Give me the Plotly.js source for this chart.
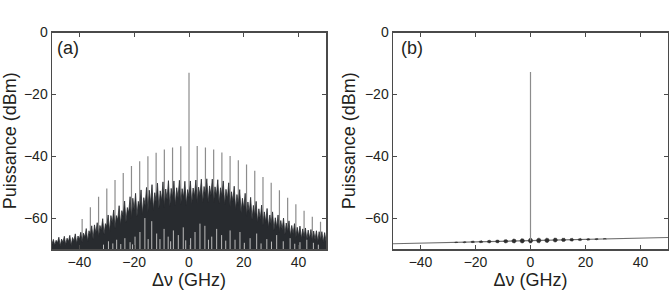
<!DOCTYPE html>
<html>
<head>
<meta charset="utf-8">
<script src="https://cdn.plot.ly/plotly-3.0.1.min.js"></script>
<style>
  html, body { margin: 0; padding: 0; background: #ffffff; }
  #chart { width: 669px; height: 296px; }
</style>
</head>
<body>
<div id="chart"></div>
<script>
// Axis extents (GHz, dBm) and tick labels
const freqRange = [-50, 50];
const powerRange = [-70, 0];
const xTickVals = [-40, -20, 0, 20, 40];
const xTickText = ['\u221240', '\u221220', '0', '20', '40'];
const yTickVals = [-60, -40, -20, 0];
const yTickText = ['\u221260', '\u221240', '\u221220', '0'];

// (a) broadband noise, sampled every 0.5 GHz from -50 GHz
const noiseStart = -50;
const noiseStep = 0.5;
const noisePower = [
  -68.4, -66.9, -68.8, -67.2, -68.0, -66.2, -69.0, -66.8, -67.9, -65.9,
  -68.6, -66.5, -67.6, -65.6, -68.9, -66.3, -67.4, -65.1, -68.2, -65.8,
  -66.9, -64.6, -67.8, -64.9, -66.2, -63.4, -67.5, -64.1, -65.6, -62.5,
  -66.8, -62.2, -64.8, -61.5, -66.1, -62.4, -63.9, -60.2, -65.2, -61.8,
  -62.8, -59.0, -64.4, -59.2, -61.6, -57.4, -63.3, -59.2, -60.6, -56.0,
  -62.2, -57.6, -59.4, -54.5, -61.3, -56.6, -58.3, -53.1, -60.2, -53.6,
  -57.4, -52.0, -59.5, -54.6, -56.6, -50.9, -58.8, -53.4, -55.9, -50.1,
  -58.0, -51.0, -55.2, -49.2, -57.4, -51.8, -54.8, -48.7, -56.9, -51.2,
  -54.4, -48.3, -56.5, -50.6, -54.0, -47.9, -56.2, -50.4, -53.7, -48.0,
  -55.9, -50.2, -53.5, -47.8, -55.6, -50.5, -53.4, -48.1, -55.8, -50.8,
  -53.3, -48.0, -55.4, -50.3, -53.0, -47.7, -55.1, -50.0, -52.8, -47.4,
  -55.0, -49.8, -52.6, -47.3, -54.9, -49.6, -52.6, -47.4, -55.0, -49.9,
  -52.8, -47.6, -55.2, -50.2, -53.1, -48.0, -55.6, -50.7, -53.8, -48.6,
  -56.3, -51.5, -54.6, -49.7, -57.2, -52.4, -55.8, -50.8, -58.3, -53.6,
  -57.0, -52.0, -59.4, -54.8, -58.2, -53.3, -60.5, -55.9, -59.4, -54.6,
  -61.4, -57.0, -60.4, -55.8, -62.3, -58.0, -61.3, -56.9, -63.1, -59.0,
  -62.2, -58.0, -63.9, -59.9, -63.0, -59.0, -64.6, -60.8, -63.8, -60.0,
  -65.2, -61.6, -64.5, -60.9, -65.8, -62.4, -65.1, -61.8, -66.3, -63.0,
  -65.7, -62.6, -66.7, -63.5, -66.2, -63.2, -67.0, -63.9, -66.6, -63.7,
  -67.3, -64.2, -67.0, -64.1, -67.6, -64.4, -67.2, -64.4, -67.8, -64.7,
  -67.4
];

// (a) comb lines: frequency (GHz) and peak power (dBm)
const combFreq = [-39, -36, -33, -30, -27, -24, -21, -18, -15, -12, -9, -6, -3, 0,
                  3, 6, 9, 12, 15, 18, 21, 24, 27, 30, 33, 36, 39, 42, 45, 48];
const combPower = [-60.3, -56.5, -53.1, -50.4, -47.7, -45.4, -43.2, -41.6, -40.0, -38.9,
                   -37.8, -37.2, -36.8, -13.0, -36.7, -37.2, -37.8, -38.8, -39.9, -41.3,
                   -42.7, -44.7, -46.7, -48.6, -51.0, -53.4, -55.5, -57.6, -59.6, -61.2];

// (a) light dips down to the floor: frequency (GHz) and height (dBm)
const dipFreq = [-31.2, -29.4, -27.8, -26.4, -24.9, -23.4, -21.5, -20.6, -19.7, -17.9,
                 -16.1, -14.9, -13.6, -11.8, -10.6, -9.1, -7.6, -6.7, -5.7, -3.9,
                 -2.1, -1.2, 0.6, 2.2, 4.0, 5.8, 7.1, 8.3, 10.1, 11.9,
                 13.4, 15.0, 16.8, 18.6, 20.2, 22.3, 24.7, 26.3, 28.4, 30.1,
                 32.0, 34.4, 36.9, 38.6, 40.5, 43.0, 45.4, 47.2];
const dipPower = [-68.6, -67.5, -68.2, -67.0, -68.4, -66.5, -67.8, -68.5, -66.0, -64.5,
                  -60.0, -66.8, -61.0, -65.0, -66.8, -63.5, -66.0, -67.5, -64.0, -65.5,
                  -63.0, -67.2, -66.5, -64.5, -61.8, -62.5, -67.0, -66.0, -63.5, -65.5,
                  -67.3, -64.0, -67.0, -64.5, -68.0, -66.5, -65.0, -68.2, -66.8, -67.6,
                  -65.5, -67.5, -66.5, -68.3, -67.8, -67.0, -68.0, -68.6];

// (b) residual floor and carrier
const floorFreqB = [-50, 50];
const floorPowerB = [-68.3, -66.3];
const carrierFreqB = [0];
const carrierPowerB = [-12.8];
const carrierBaseB = -67.3;

// (b) small residual modulation bumps along the floor
const bumpFreq = [-27, -24, -21, -18, -15, -12, -9, -6, -3, 0, 3, 6, 9, 12, 15, 18, 21, 24, 27];
const bumpLevel = [-67.85, -67.8, -67.7, -67.65, -67.6, -67.55, -67.5, -67.4, -67.35, -67.3,
                   -67.25, -67.2, -67.1, -67.05, -67.0, -66.95, -66.9, -66.8, -66.75];
const bumpHalfHeight = [0.15, 0.2, 0.28, 0.35, 0.45, 0.5, 0.58, 0.65, 0.72, 0.78,
                        0.78, 0.72, 0.66, 0.58, 0.48, 0.38, 0.28, 0.2, 0.12];
const bumpHalfWidth = [0.6, 0.62, 0.65, 0.68, 0.7, 0.72, 0.75, 0.78, 0.8, 0.8,
                       0.8, 0.8, 0.78, 0.75, 0.72, 0.68, 0.65, 0.62, 0.6];

const NOISE = '#282b2f';
const COMB = '#8c8c8c';
const FRAME = '#4a4a4a';
const TEXT = '#231f20';

// vertical stems from a base level up to each value
function stems(xs, tops, base) {
  const x = [], y = [];
  xs.forEach((f, i) => {
    x.push(f, f, null);
    y.push(base, tops[i], null);
  });
  return { x, y };
}

// closed ellipse outlines, one per bump, separated by gaps
function bumps(fs, levels, hh, hw) {
  const x = [], y = [];
  const n = 24;
  fs.forEach((f, i) => {
    for (let k = 0; k <= n; k++) {
      const t = (2 * Math.PI * k) / n;
      x.push(f + hw[i] * Math.cos(t));
      y.push(levels[i] + hh[i] * Math.sin(t));
    }
    x.push(null); y.push(null);
  });
  return { x, y };
}

const combStems = stems(combFreq, combPower, powerRange[0]);
const dipStems = stems(dipFreq, dipPower, powerRange[0]);
const carrierStem = stems(carrierFreqB, carrierPowerB, carrierBaseB);
const bumpShapes = bumps(bumpFreq, bumpLevel, bumpHalfHeight, bumpHalfWidth);

const traces = [
  // panel (a)
  { x: combStems.x, y: combStems.y, xaxis: 'x', yaxis: 'y', mode: 'lines',
    line: { color: COMB, width: 1.2 }, hoverinfo: 'skip' },
  { x: freqRange, y: [powerRange[0], powerRange[0]], xaxis: 'x', yaxis: 'y', mode: 'lines',
    line: { width: 0 }, hoverinfo: 'skip' },
  { x0: noiseStart, dx: noiseStep, y: noisePower, xaxis: 'x', yaxis: 'y', mode: 'lines',
    fill: 'tonexty', fillcolor: NOISE, line: { color: NOISE, width: 0.8 }, hoverinfo: 'skip' },
  { x: dipStems.x, y: dipStems.y, xaxis: 'x', yaxis: 'y', mode: 'lines',
    line: { color: '#bdbdbd', width: 1 }, hoverinfo: 'skip' },
  // panel (b)
  { x: floorFreqB, y: floorPowerB, xaxis: 'x2', yaxis: 'y2', mode: 'lines',
    line: { color: '#6e6e6e', width: 1.1 }, hoverinfo: 'skip' },
  { x: bumpShapes.x, y: bumpShapes.y, xaxis: 'x2', yaxis: 'y2', mode: 'lines',
    fill: 'toself', fillcolor: '#2e2e2e', line: { color: '#2e2e2e', width: 0.5 }, hoverinfo: 'skip' },
  { x: carrierStem.x, y: carrierStem.y, xaxis: 'x2', yaxis: 'y2', mode: 'lines',
    line: { color: COMB, width: 1.2 }, hoverinfo: 'skip' }
];

const fontFamily = 'Arial, "Liberation Sans", Helvetica, sans-serif';

function xAxis(domain, anchor) {
  return {
    domain, anchor, range: freqRange, tickvals: xTickVals, ticktext: xTickText,
    ticks: 'inside', ticklen: 4, tickwidth: 1, tickcolor: FRAME,
    showline: true, linecolor: FRAME, linewidth: 1.5, mirror: 'ticks',
    showgrid: false, zeroline: false,
    tickfont: { family: fontFamily, size: 14, color: TEXT },
    title: { text: 'Δν (GHz)', font: { family: fontFamily, size: 18, color: TEXT }, standoff: 4 },
    fixedrange: true
  };
}
function yAxis(domain, anchor) {
  return {
    domain, anchor, range: powerRange, tickvals: yTickVals, ticktext: yTickText,
    ticks: 'inside', ticklen: 4, tickwidth: 1, tickcolor: FRAME,
    showline: true, linecolor: FRAME, linewidth: 1.5, mirror: 'ticks',
    showgrid: false, zeroline: false,
    tickfont: { family: fontFamily, size: 14, color: TEXT },
    title: { text: 'Puissance (dBm)', font: { family: fontFamily, size: 18, color: TEXT }, standoff: 4 },
    fixedrange: true
  };
}

const yDom = [1 - 249 / 296, 1 - 32.5 / 296];

const layout = {
  width: 669, height: 296,
  margin: { l: 0, r: 0, t: 0, b: 0 },
  paper_bgcolor: '#ffffff', plot_bgcolor: '#ffffff',
  showlegend: false,
  xaxis: xAxis([52 / 669, 326 / 669], 'y'),
  yaxis: yAxis(yDom, 'x'),
  xaxis2: xAxis([393 / 669, 668 / 669], 'y2'),
  yaxis2: yAxis(yDom, 'x2'),
  annotations: [
    { text: '(a)', xref: 'x domain', yref: 'y domain', x: 0.01, y: 0.985,
      xanchor: 'left', yanchor: 'top', showarrow: false,
      font: { family: fontFamily, size: 18, color: TEXT } },
    { text: '(b)', xref: 'x2 domain', yref: 'y2 domain', x: 0.02, y: 0.985,
      xanchor: 'left', yanchor: 'top', showarrow: false,
      font: { family: fontFamily, size: 18, color: TEXT } }
  ]
};

Plotly.newPlot('chart', traces, layout, { displayModeBar: false, staticPlot: true });
</script>
</body>
</html>
